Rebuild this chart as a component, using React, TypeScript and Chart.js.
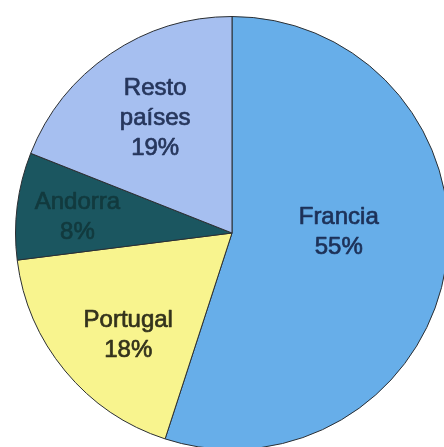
import React, { useEffect, useRef } from "react";
import { Chart, registerables } from "chart.js";

Chart.register(...registerables);

const categories = ["Francia", "Portugal", "Andorra", "Resto países"];
const values = [55, 18, 8, 19];
const labelLines = [["Francia", "55%"], ["Portugal", "18%"], ["Andorra", "8%"], ["Resto", "países", "19%"]];

const sliceColors = ["#67aee9", "#f8f48e", "#1b5660", "#a6bff0"];
const textColors = ["#1d3158", "#33321c", "#123a3e", "#26365c"];
// label placement: clockwise angle from top (deg), radial fraction
const labelAngles = [89.5, 225.4, 275.9, 326.2];
const labelRadii = [0.493, 0.673, 0.718, 0.638];

const labelPlugin = {
  id: "sliceLabels",
  afterDatasetsDraw(chart: any) {
    const ctx = chart.ctx;
    const meta = chart.getDatasetMeta(0);
    ctx.save();
    ctx.font = '24px "Liberation Sans", Arial, sans-serif';
    ctx.textAlign = "center";
    ctx.textBaseline = "middle";
    ctx.lineWidth = 0.7;
    ctx.lineJoin = "round";
    meta.data.forEach((arc: any, i: number) => {
      const cx = arc.x;
      const cy = arc.y;
      const r = arc.outerRadius * labelRadii[i];
      const th = (labelAngles[i] * Math.PI) / 180;
      const x = cx + r * Math.sin(th);
      const y = cy - r * Math.cos(th);
      const lines = labelLines[i];
      const lh = 30;
      ctx.fillStyle = textColors[i];
      ctx.strokeStyle = textColors[i];
      lines.forEach((ln, j) => {
        const yy = y + (j - (lines.length - 1) / 2) * lh;
        ctx.fillText(ln, x, yy);
        ctx.strokeText(ln, x, yy);
      });
    });
    ctx.restore();
  },
};

export default function App() {
  const ref = useRef<HTMLCanvasElement>(null);
  useEffect(() => {
    if (!ref.current) return;
    const chart = new Chart(ref.current, {
      type: "pie",
      data: {
        labels: categories,
        datasets: [
          {
            data: values,
            backgroundColor: sliceColors,
            borderColor: "#2b2f33",
            borderWidth: 1,
          },
        ],
      },
      options: {
        animation: false,
        responsive: false,
        layout: { padding: 15 },
        plugins: {
          legend: { display: false },
          tooltip: { enabled: false },
        },
      },
      plugins: [labelPlugin],
    });
    return () => chart.destroy();
  }, []);
  return (
    <div style={{ position: "fixed", left: 0, top: 0, width: 444, height: 447, overflow: "hidden", background: "#fff" }}>
      <canvas ref={ref} width={464} height={466} style={{ display: "block", width: 464, height: 466 }} />
    </div>
  );
}
